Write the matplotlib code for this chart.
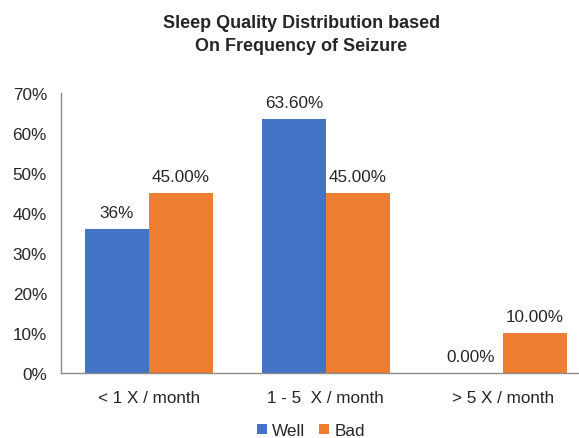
import matplotlib
matplotlib.use("Agg")
import matplotlib.pyplot as plt
import numpy as np
from matplotlib.ticker import PercentFormatter

plt.rcParams["font.family"] = ["Liberation Sans", "DejaVu Sans"]

categories = ["< 1 X / month", "1 - 5  X / month", "> 5 X / month"]
well = [36.0, 63.6, 0.0]
bad = [45.0, 45.0, 10.0]
well_labels = ["36%", "63.60%", "0.00%"]
bad_labels = ["45.00%", "45.00%", "10.00%"]

BLUE = "#4472C4"
ORANGE = "#ED7D31"
TEXT = "#262626"
FS = 12.3

fig = plt.figure(figsize=(5.79, 4.39), dpi=100)
ax = fig.add_axes([0.105, 0.148, 0.895, 0.638])

x = np.arange(len(categories))
w = 0.36
b1 = ax.bar(x - w / 2, well, w, color=BLUE, label="Well")
b2 = ax.bar(x + w / 2, bad, w, color=ORANGE, label="Bad")

for bars, labels in ((b1, well_labels), (b2, bad_labels)):
    for rect, lab in zip(bars, labels):
        ax.text(rect.get_x() + rect.get_width() / 2, rect.get_height() + 2.2, lab,
                ha="center", va="bottom", fontsize=FS, color=TEXT)

ax.set_ylim(0, 70)
ax.set_xlim(-0.497, 2.43)
ax.set_yticks(range(0, 71, 10))
ax.yaxis.set_major_formatter(PercentFormatter(decimals=0))
ax.set_xticks(x)
ax.set_xticklabels(categories)
ax.tick_params(axis="both", length=0, labelsize=FS, colors=TEXT)
ax.tick_params(axis="x", pad=12)
ax.tick_params(axis="y", pad=10)
for s in ("top", "right"):
    ax.spines[s].set_visible(False)
for s in ("left", "bottom"):
    ax.spines[s].set_color("#8c8c8c")
    ax.spines[s].set_linewidth(1.0)

fig.text(0.52, 0.965, "Sleep Quality Distribution based\nOn Frequency of Seizure",
         ha="center", va="top", fontsize=13, fontweight="bold", color=TEXT,
         linespacing=1.4)

fig.legend(handles=[b1, b2], loc="center", bbox_to_anchor=(0.537, 0.017),
           ncol=2, frameon=False, fontsize=FS, handlelength=0.6, handleheight=0.6,
           handletextpad=0.3, columnspacing=0.8, labelcolor=TEXT)

fig.savefig("out.png", dpi=100, facecolor="white")
